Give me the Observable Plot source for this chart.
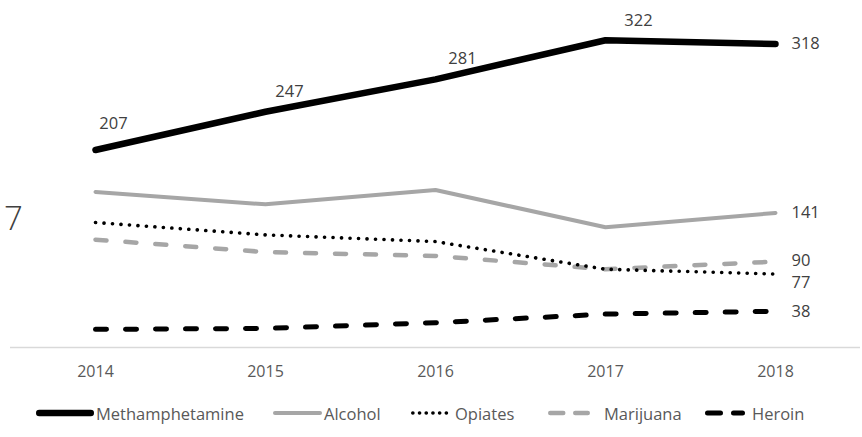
<!DOCTYPE html>
<html>
<head>
<meta charset="utf-8">
<script src="https://cdn.jsdelivr.net/npm/d3@7"></script>
<script src="https://cdn.jsdelivr.net/npm/@observablehq/plot@0.6"></script>
<style>
  html, body { margin: 0; padding: 0; background: #fff; }
  #wrap { position: relative; width: 862px; height: 437px; overflow: hidden; font-family: "Open Sans", sans-serif; }
  #cut { position: absolute; left: 4px; top: 195px; font-size: 33px; font-weight: 300; color: #404040; font-family: "Open Sans", sans-serif; }
  #legend { position: absolute; left: 0; top: 401px; width: 862px; height: 24px; font-size: 16.5px; color: #595959; white-space: nowrap; }
  #legend .item { position: absolute; top: 0; display: flex; align-items: center; height: 24px; }
  #legend svg { display: block; }
</style>
</head>
<body>
<div id="wrap">
  <div id="chart"></div>
  <div id="cut">7</div>
  <div id="legend"></div>
</div>
<script>
const years = ["2014", "2015", "2016", "2017", "2018"];
const seriesNames = ["Methamphetamine", "Alcohol", "Opiates", "Marijuana", "Heroin"];
const methamphetamine = [207, 247, 281, 322, 318];
const alcohol = [163, 150, 165, 126, 141];
const opiates = [131, 118, 111, 82, 77];
const marijuana = [113, 100, 96, 82, 90];
const heroin = [19, 20, 26, 35, 38];

const values = [methamphetamine, alcohol, opiates, marijuana, heroin];
const styles = [
  {stroke: "#000000", strokeWidth: 6.5},
  {stroke: "#a6a6a6", strokeWidth: 4},
  {stroke: "#000000", strokeWidth: 3.6, strokeDasharray: "0.1 8.4"},
  {stroke: "#a6a6a6", strokeWidth: 4.5, strokeDasharray: "11 19"},
  {stroke: "#000000", strokeWidth: 5, strokeDasharray: "11 19"}
];

const rows = seriesNames.map((name, s) => years.map((year, i) => ({name, year, value: values[s][i]})));

const lineMarks = rows.map((r, s) => Plot.lineY(r, {
  x: "year", y: "value", ...styles[s], strokeLinecap: "round", strokeLinejoin: "round"
}));

// Methamphetamine labels above points (2014-2017)
const aboveOffsets = [[18, -26], [24, -20], [27, -21], [33, -20]];
const aboveLabels = aboveOffsets.map(([dx, dy], i) => Plot.text([rows[0][i]], {
  x: "year", y: "value", text: d => String(d.value), dx, dy,
  fill: "#404040", fontSize: 16.5
}));

// Right-side labels at 2018
const rightDy = [0, 0, 9, -1, 0];
const rightLabels = rows.map((r, s) => Plot.text([r[4]], {
  x: "year", y: "value", text: d => String(d.value), dx: 16, dy: rightDy[s],
  textAnchor: "start", fill: "#404040", fontSize: 16.5
}));

const chart = Plot.plot({
  width: 862,
  height: 395,
  marginLeft: 10,
  marginRight: 2,
  marginTop: 13,
  marginBottom: 48,
  style: {fontFamily: "Open Sans, sans-serif", fontSize: "16px", background: "#fff"},
  x: {type: "point", domain: years, padding: 0.5, label: null},
  y: {domain: [0, 350], axis: null},
  marks: [
    Plot.axisX({tickSize: 0, tickPadding: 18, fontSize: 16, color: "#595959", label: null}),
    Plot.ruleY([0], {stroke: "#d9d9d9", strokeWidth: 1.3}),
    ...lineMarks.slice().reverse(),
    ...aboveLabels,
    ...rightLabels
  ]
});
document.getElementById("chart").appendChild(chart);

// Legend (HTML below the svg)
const itemLeft = [36, 273, 411, 548, 705];
const swatchBox = [60, 51, 44, 56, 47];
const swatchLen = [58, 49, 39, 42, 40];
const legendDash = ["", "", "0.1 6.6", "13 12", "13 13"];
const legend = document.getElementById("legend");
seriesNames.forEach((name, s) => {
  const item = document.createElement("div");
  item.className = "item";
  item.style.left = itemLeft[s] + "px";
  const st = styles[s];
  const cap = st.strokeWidth / 2;
  const dash = legendDash[s] ? `stroke-dasharray="${legendDash[s]}"` : "";
  const svg = `<svg width="${swatchBox[s]}" height="12"><line x1="${cap}" x2="${swatchLen[s] - cap}" y1="6" y2="6" stroke="${st.stroke}" stroke-width="${st.strokeWidth}" stroke-linecap="round" ${dash}/></svg>`;
  item.innerHTML = svg + `<span>${name}</span>`;
  legend.appendChild(item);
});
</script>
</body>
</html>
